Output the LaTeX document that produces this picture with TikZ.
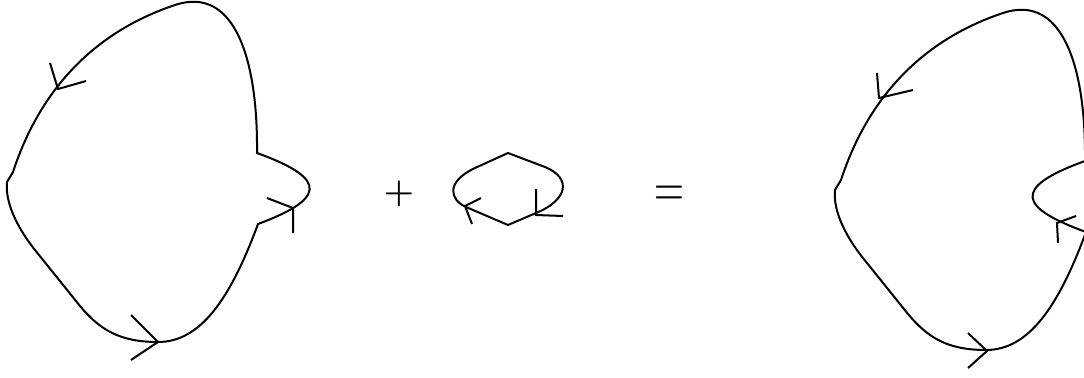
\documentclass[tikz,border=0pt]{standalone}
\usepackage{amsmath}
\usepackage{tikz}
\usetikzlibrary{positioning}
\usetikzlibrary{calc}

\begin{document}
\begin{tikzpicture}[x=0.5pt, y=-0.5pt, line width=1pt,
    vee/.style={line width=1pt, line join=miter},
    sign/.style={anchor=base, inner sep=0pt}]
    \useasboundingbox (0,0) rectangle (1084,377);
    \clip (0,0) rectangle (1084,377);

    % big loop, lobe pointing out
    \draw (7,182) -- (13,172) .. controls (30,120) and (70,40) .. (175,5)
        .. controls (235,-15) and (258,60) .. (257,153)
        .. controls (332,180) and (322,200) .. (258,224)
        .. controls (230,300) and (200,342) .. (158,342)
        .. controls (120,342) and (100,330) .. (80,306) -- (35,250)
        .. controls (15,225) and (5,200) .. cycle;
    \draw[vee] (50,63) -- (58,89) -- (86,81);
    \draw[vee] (131,315) -- (158,342) -- (131,360);
    \draw[vee] (267,198) -- (293,208) -- (293,233);

    \node[sign, font=\fontsize{18.9}{22}\selectfont\boldmath] (plus) at (399,202) {$+$};

    % small loop
    \draw (508,153) -- (475,168) .. controls (445,182) and (450,200) .. (466,207)
        -- (508,225) -- (536,213) .. controls (568,200) and (572,178) .. (545,167) -- cycle;
    \draw[vee] (481,198) -- (465,206) -- (472,224);
    \draw[vee] (536,189) -- (536,215) -- (563,216);

    \node[sign, font=\fontsize{21}{25}\selectfont] (equals) at (669,207.7) {\scalebox{1}[1.45]{$=$}};

    % joined loop, lobe pointing in
    \begin{scope}[shift={(828,8)}]
        \draw (7,182) -- (13,172) .. controls (30,120) and (70,40) .. (175,5)
            .. controls (235,-15) and (258,60) .. (257,153)
            .. controls (182,180) and (192,200) .. (258,224)
            .. controls (230,300) and (200,342) .. (158,342)
            .. controls (120,342) and (100,330) .. (80,306) -- (35,250)
            .. controls (15,225) and (5,200) .. cycle;
    \end{scope}
    \draw[vee] (877,73) -- (879,98) -- (913,90);
    \draw[vee] (968,333) -- (987,351) -- (968,368);
    \draw[vee] (1076,216) -- (1057,223) -- (1058,243);
\end{tikzpicture}
\end{document}
